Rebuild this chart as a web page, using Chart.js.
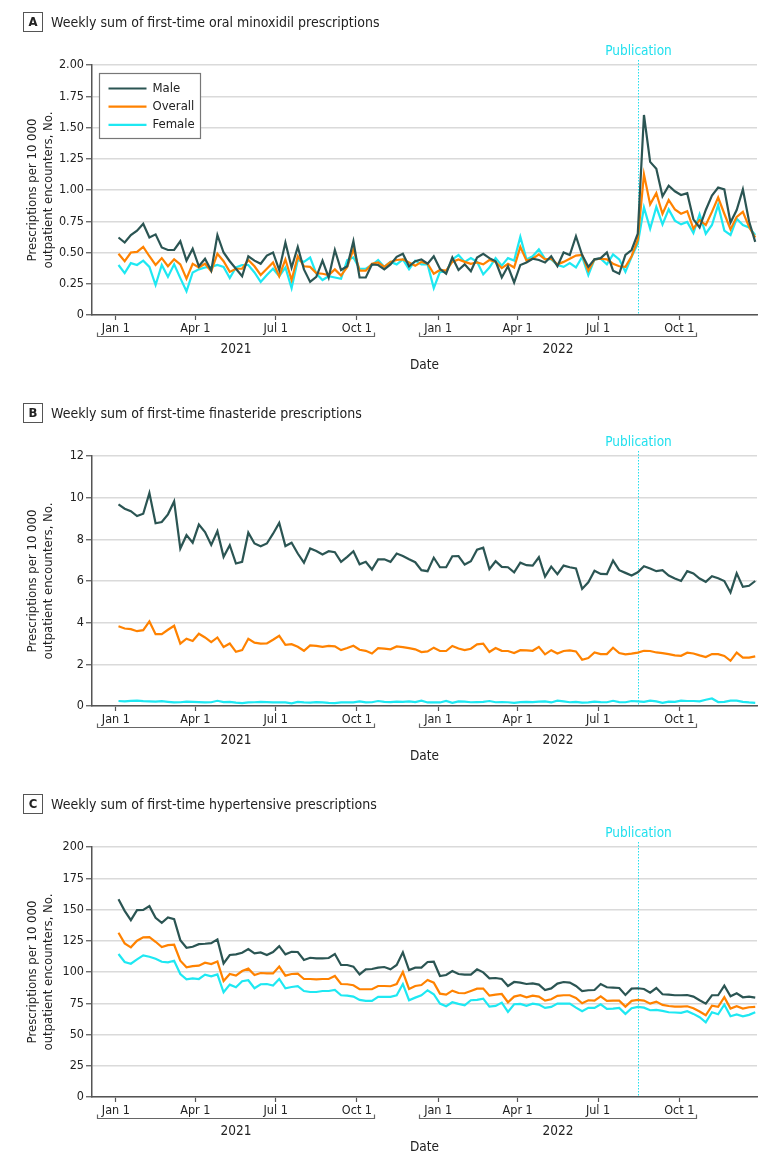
<!DOCTYPE html>
<html><head><meta charset="utf-8">
<script src="https://cdn.jsdelivr.net/npm/chart.js@4.4.1/dist/chart.umd.min.js"></script>
<style>
html,body{margin:0;padding:0;background:#fff;width:780px;height:1166px;overflow:hidden;}
.panel{position:absolute;left:0;width:780px;height:391px;}
.ttl{position:absolute;left:23px;top:12px;height:20px;font-family:"Liberation Sans Narrow","Arial Narrow","DejaVu Sans Condensed",sans-serif;font-size:14px;color:#222;display:flex;align-items:center;white-space:nowrap;}
.ttl b{display:inline-block;box-sizing:border-box;width:20px;height:20px;border:1px solid #555;text-align:center;line-height:18px;font-size:13px;margin-right:8px;}
canvas{position:absolute;left:0;top:0;}
</style></head>
<body>
<div class="panel" style="top:0"><canvas id="cA" width="780" height="391"></canvas><div class="ttl"><b>A</b>Weekly sum of first-time oral minoxidil prescriptions</div></div>
<div class="panel" style="top:391px"><canvas id="cB" width="780" height="391"></canvas><div class="ttl"><b>B</b>Weekly sum of first-time finasteride prescriptions</div></div>
<div class="panel" style="top:782px"><canvas id="cC" width="780" height="391"></canvas><div class="ttl"><b>C</b>Weekly sum of first-time hypertensive prescriptions</div></div>
<script>
// ---- categories: weekly periods, first week starting Mon 4 Jan 2021 (day 3 after 1 Jan 2021)
const firstWeekDay = 3;
const weekCount = 104;
const weekDays = Array.from({length: weekCount}, (_, i) => firstWeekDay + 7 * i);

// ---- x-axis tick labels (days since 1 Jan 2021)
const tickDays = [0, 90, 181, 273, 365, 455, 546, 638];
const tickLabels = ['Jan 1', 'Apr 1', 'Jul 1', 'Oct 1', 'Jan 1', 'Apr 1', 'Jul 1', 'Oct 1'];
const yearLabels = ['2021', '2022'];
const yearSpans = [[0, 273], [365, 638]];
const publicationDay = 591;
const seriesNames = ['Male', 'Overall', 'Female'];

// ---- A: oral minoxidil
const minoxMale = [0.62,0.58,0.64,0.675,0.73,0.62,0.645,0.54,0.52,0.52,0.59,0.435,0.53,0.39,0.45,0.355,0.64,0.50,0.43,0.37,0.31,0.47,0.435,0.41,0.475,0.50,0.36,0.58,0.38,0.545,0.365,0.265,0.305,
0.435,0.30,0.52,0.36,0.39,0.59,0.30,0.30,0.405,0.40,0.365,0.405,0.465,0.49,0.39,0.43,0.445,0.41,0.47,0.37,0.33,0.46,0.36,0.405,0.35,0.46,0.49,0.455,0.43,0.30,0.39,0.26,0.40,0.42,
0.45,0.44,0.42,0.47,0.39,0.50,0.48,0.63,0.48,0.385,0.445,0.455,0.50,0.355,0.33,0.48,0.52,0.65,1.60,1.225,1.17,0.95,1.035,0.99,0.96,0.975,0.765,0.70,0.84,0.955,1.02,1.005,0.74,0.84,1.005,0.75,0.585];
const minoxOverall = [0.49,0.43,0.50,0.505,0.545,0.47,0.40,0.455,0.39,0.445,0.405,0.29,0.41,0.38,0.41,0.35,0.49,0.43,0.345,0.37,0.37,0.44,0.39,0.32,0.37,0.42,0.31,0.445,0.28,0.47,0.39,0.385,0.335,
0.33,0.32,0.365,0.315,0.385,0.525,0.355,0.355,0.41,0.42,0.385,0.425,0.44,0.445,0.42,0.395,0.425,0.41,0.33,0.36,0.355,0.425,0.445,0.425,0.41,0.42,0.405,0.44,0.425,0.375,0.41,0.38,0.545,0.435,
0.45,0.485,0.445,0.45,0.405,0.425,0.45,0.475,0.48,0.355,0.445,0.45,0.445,0.41,0.39,0.385,0.47,0.60,1.125,0.885,0.975,0.81,0.92,0.845,0.81,0.83,0.69,0.76,0.72,0.825,0.94,0.81,0.685,0.785,0.825,0.705,0.62];
const minoxFemale = [0.40,0.335,0.415,0.40,0.435,0.385,0.24,0.40,0.305,0.405,0.295,0.19,0.34,0.365,0.38,0.385,0.40,0.385,0.295,0.38,0.40,0.40,0.34,0.265,0.32,0.37,0.31,0.38,0.215,0.44,0.425,0.46,0.33,
0.28,0.31,0.30,0.29,0.44,0.46,0.37,0.37,0.40,0.44,0.385,0.425,0.405,0.445,0.365,0.435,0.405,0.405,0.215,0.345,0.345,0.445,0.48,0.425,0.455,0.425,0.325,0.38,0.455,0.395,0.455,0.435,0.625,0.445,
0.47,0.525,0.45,0.445,0.40,0.385,0.415,0.38,0.465,0.32,0.445,0.45,0.405,0.485,0.445,0.345,0.465,0.57,0.86,0.69,0.865,0.725,0.845,0.755,0.725,0.745,0.655,0.805,0.65,0.72,0.88,0.675,0.64,0.77,0.72,0.70,0.64];

// ---- B: finasteride
const finMale = [9.68,9.47,9.35,9.12,9.23,10.22,8.77,8.83,9.2,9.82,
7.56,8.2,7.84,8.71,8.35,7.73,8.39,7.16,7.72,6.84,
6.92,8.32,7.8,7.67,7.8,8.27,8.79,7.68,7.84,7.32,
6.88,7.56,7.44,7.27,7.43,7.38,6.92,7.16,7.43,6.8,
6.92,6.55,7.04,7.04,6.92,7.32,7.2,7.04,6.9,6.52,
6.47,7.12,6.66,6.66,7.19,7.2,6.79,6.95,7.5,7.6,
6.57,6.95,6.68,6.66,6.42,6.88,6.76,6.74,7.14,6.21,
6.69,6.33,6.74,6.66,6.6,5.62,5.94,6.49,6.34,6.33,
6.98,6.52,6.39,6.26,6.42,6.71,6.6,6.47,6.52,6.26,
6.12,6.0,6.47,6.36,6.12,5.96,6.23,6.13,6.0,5.45,
6.37,5.72,5.77,6.0];
const finOverall = [3.83,3.72,3.69,3.59,3.64,4.06,3.45,3.45,3.66,3.85,
2.99,3.23,3.12,3.47,3.29,3.07,3.29,2.83,3.0,2.6,
2.68,3.23,3.04,2.99,3.0,3.18,3.37,2.94,2.97,2.84,
2.65,2.91,2.89,2.84,2.89,2.86,2.68,2.78,2.89,2.7,
2.65,2.52,2.78,2.75,2.72,2.86,2.83,2.78,2.72,2.59,
2.62,2.8,2.64,2.64,2.88,2.76,2.68,2.75,2.96,2.99,
2.59,2.78,2.65,2.64,2.54,2.68,2.67,2.65,2.84,2.48,
2.68,2.52,2.64,2.67,2.62,2.22,2.3,2.57,2.49,2.49,
2.8,2.54,2.48,2.51,2.56,2.65,2.64,2.57,2.54,2.49,
2.43,2.41,2.56,2.52,2.43,2.35,2.49,2.49,2.4,2.17,
2.56,2.32,2.32,2.38];
const finFemale = [0.24,0.22,0.25,0.26,0.23,0.22,0.21,0.23,0.20,0.17,
0.18,0.21,0.20,0.19,0.17,0.18,0.25,0.19,0.20,0.16,
0.14,0.17,0.18,0.20,0.19,0.17,0.18,0.17,0.13,0.20,
0.17,0.16,0.19,0.17,0.15,0.14,0.17,0.18,0.17,0.22,
0.17,0.18,0.24,0.20,0.19,0.21,0.20,0.22,0.19,0.26,
0.17,0.18,0.17,0.24,0.15,0.22,0.21,0.18,0.19,0.20,
0.24,0.18,0.19,0.18,0.15,0.19,0.20,0.19,0.21,0.22,
0.17,0.26,0.22,0.18,0.20,0.16,0.17,0.21,0.19,0.18,
0.25,0.19,0.18,0.24,0.22,0.20,0.26,0.22,0.15,0.21,
0.20,0.26,0.24,0.24,0.22,0.30,0.36,0.19,0.20,0.26,
0.26,0.20,0.17,0.15];

// ---- C: hypertensive
const htnMale = [158.2,148.9,141.5,149.5,149.7,152.7,143.4,139.4,143.6,142.3,
125.5,119.4,120.2,122.3,122.6,123.1,126.1,106.9,113.6,114.1,
115.4,118.4,114.9,115.7,113.6,116.0,120.7,114.1,116.2,116.0,
109.6,111.4,110.9,110.9,111.2,114.4,105.6,105.6,104.3,98.1,
102.1,102.4,103.5,104.0,102.1,105.6,115.7,101.6,103.5,103.5,
108.0,108.2,96.8,97.6,100.8,98.4,97.9,97.9,102.1,99.7,
94.9,95.2,94.4,88.8,92.0,91.5,90.4,90.9,89.9,85.6,
86.9,90.7,92.0,91.5,88.8,84.8,85.4,85.6,90.4,87.8,
87.5,87.2,81.6,86.7,87.0,86.4,83.5,87.2,82.2,81.9,
81.4,81.4,81.6,80.3,77.4,74.7,81.4,81.4,89.1,80.6,
83.0,79.8,80.3,79.5];
const htnOverall = [131.4,122.9,119.7,125.0,127.7,127.9,124.2,119.9,121.5,121.8,
109.0,103.7,104.7,105.1,107.4,106.4,108.5,92.8,98.4,97.1,
100.8,102.7,97.6,99.2,98.9,98.9,104.3,97.1,98.4,98.7,
94.4,94.4,94.1,94.4,94.4,96.8,90.4,90.2,89.4,86.2,
86.2,86.2,88.8,88.8,88.6,90.4,100.0,86.4,88.8,89.6,
93.6,91.5,82.7,81.9,85.1,83.2,83.0,84.8,86.7,86.7,
81.1,81.9,82.4,75.8,80.3,81.4,79.8,81.1,80.3,77.1,
78.2,80.9,81.4,81.4,79.2,75.0,77.4,77.1,80.6,76.9,
77.1,77.1,72.3,76.9,77.7,77.1,74.7,76.3,73.7,72.8,
72.3,72.3,72.6,71.0,68.4,65.4,73.1,72.1,79.8,70.7,
72.6,70.7,71.8,72.1];
const htnFemale = [114.4,108.0,106.6,110.1,113.3,112.2,110.6,108.2,107.7,109.0,
98.4,94.1,94.9,94.4,97.9,96.5,98.1,83.8,89.9,87.8,
92.6,93.4,87.0,90.2,90.4,89.1,94.4,87.0,88.0,88.6,
84.8,84.0,84.0,84.8,84.8,85.6,81.4,81.1,80.3,77.7,
76.9,76.9,80.1,80.1,80.1,81.4,90.4,77.4,79.5,81.4,
85.4,82.2,74.7,72.6,75.8,74.5,73.4,77.4,77.7,78.7,
72.3,72.9,75.5,68.1,74.2,74.5,72.9,74.7,73.9,71.3,
72.1,74.7,74.7,74.7,71.5,68.6,71.3,71.3,74.2,70.5,
70.7,71.3,66.5,71.0,72.1,71.5,69.4,69.7,68.9,67.8,
67.6,67.3,68.6,66.5,63.8,59.8,67.8,66.2,73.9,64.6,
66.0,64.6,65.7,67.8];

// ---- styles
const FONT = '"Liberation Sans Narrow","Arial Narrow","DejaVu Sans Condensed",sans-serif';
const COLORS = ['#2b5553', '#ff8200', '#1ee8f2'];
const PUB_COLOR = '#22e0ee';
const TEXT = '#222';
const AXIS = '#555';

const extras = {
  id: 'extras',
  beforeDatasetsDraw(chart) {
    const {ctx, chartArea: ca, scales: {x}} = chart;
    const px = Math.round(x.getPixelForValue(publicationDay)) + 0.5;
    ctx.save();
    ctx.strokeStyle = PUB_COLOR; ctx.lineWidth = 1; ctx.setLineDash([1.5, 1.5]);
    ctx.beginPath(); ctx.moveTo(px, ca.top - 5); ctx.lineTo(px, ca.bottom); ctx.stroke();
    ctx.restore();
  },
  afterDraw(chart, args, opts) {
    const {ctx, chartArea: ca, scales: {x}} = chart;
    ctx.save();
    const px = Math.round(x.getPixelForValue(publicationDay)) + 0.5;
    ctx.fillStyle = PUB_COLOR; ctx.font = '13.5px ' + FONT;
    ctx.textAlign = 'center'; ctx.textBaseline = 'middle';
    ctx.fillText('Publication', px, ca.top - 14);
    // year brackets
    yearSpans.forEach(([a, b], k) => {
      const x1 = Math.round(x.getPixelForValue(a) - 19) + 0.5;
      const x2 = Math.round(x.getPixelForValue(b) + 17) + 0.5;
      const yb = Math.round(ca.bottom + 21) + 0.5;
      ctx.strokeStyle = '#666'; ctx.lineWidth = 1.2;
      ctx.beginPath(); ctx.moveTo(x1, yb - 4); ctx.lineTo(x1, yb); ctx.lineTo(x2, yb); ctx.lineTo(x2, yb - 4); ctx.stroke();
      ctx.fillStyle = TEXT; ctx.font = '13.5px ' + FONT;
      ctx.fillText(yearLabels[k], (x1 + x2) / 2, ca.bottom + 34.5);
    });
    // legend (panel A)
    if (opts.legend) {
      const lx = ca.left + 7.5, ly = ca.top + 8.5, lw = 101, lh = 65;
      ctx.fillStyle = '#fff'; ctx.fillRect(lx, ly, lw, lh);
      ctx.strokeStyle = '#777'; ctx.lineWidth = 1.2; ctx.strokeRect(lx, ly, lw, lh);
      chart.data.datasets.forEach((ds, k) => {
        const yy = ly + 15 + k * 18.2;
        ctx.strokeStyle = ds.borderColor; ctx.lineWidth = 2.2;
        ctx.beginPath(); ctx.moveTo(lx + 9, yy); ctx.lineTo(lx + 47, yy); ctx.stroke();
        ctx.fillStyle = TEXT; ctx.font = '13px ' + FONT; ctx.textAlign = 'left';
        ctx.fillText(ds.label, lx + 53, yy);
      });
    }
    ctx.restore();
  }
};

function makePanel(id, series, yMax, yStep, yFmt, legend) {
  const canvas = document.getElementById(id);
  const H = canvas.height;
  const datasets = series.map((vals, k) => ({
    label: seriesNames[k],
    data: vals.map((v, i) => ({x: weekDays[i], y: v})),
    borderColor: COLORS[k], backgroundColor: COLORS[k],
    borderWidth: 2.2, pointRadius: 0, tension: 0, fill: false,
    order: k
  }));
  const yTicks = [];
  for (let v = 0; v <= yMax + 1e-9; v += yStep) yTicks.push(+v.toFixed(4));
  new Chart(canvas, {
    type: 'line',
    data: {datasets},
    plugins: [extras],
    options: {
      responsive: false, animation: false, devicePixelRatio: 1,
      layout: {padding: {top: 65, right: 23, left: 0, bottom: 0}},
      plugins: {legend: {display: false}, tooltip: {enabled: false}, extras: {legend}},
      scales: {
        x: {
          type: 'linear', min: -27, max: 726,
          afterBuildTicks: s => { s.ticks = tickDays.map(v => ({value: v})); },
          afterFit: s => { s.height = H - 315; },
          ticks: {autoSkip: false, maxRotation: 0, padding: 1.5, color: TEXT,
                  font: {family: FONT, size: 12.5},
                  callback: v => tickLabels[tickDays.indexOf(v)]},
          grid: {drawOnChartArea: false, drawTicks: true, tickLength: 5, tickColor: AXIS, tickWidth: 1.2},
          border: {display: true, color: AXIS, width: 1.5},
          title: {display: true, text: 'Date', color: TEXT, font: {family: FONT, size: 13.5}, padding: {top: 0, bottom: 17}}
        },
        y: {
          min: 0, max: yMax,
          afterBuildTicks: s => { s.ticks = yTicks.map(v => ({value: v})); },
          afterFit: s => { s.width = 92; },
          ticks: {padding: 2, color: TEXT, font: {family: FONT, size: 12.5}, callback: yFmt},
          grid: {color: '#dadada', lineWidth: 1.5, drawTicks: true, tickLength: 6, tickColor: AXIS, tickWidth: 1.2},
          border: {display: true, color: AXIS, width: 1.5},
          title: {display: true, text: ['Prescriptions per 10 000', 'outpatient encounters, No.'],
                  color: TEXT, font: {family: FONT, size: 13, lineHeight: 1.25}, padding: {top: 24, bottom: 0}}
        }
      }
    }
  });
}

makePanel('cA', [minoxMale, minoxOverall, minoxFemale], 2, 0.25, v => v === 0 ? '0' : v.toFixed(2), true);
makePanel('cB', [finMale, finOverall, finFemale], 12, 2, v => String(v), false);
makePanel('cC', [htnMale, htnOverall, htnFemale], 200, 25, v => String(v), false);
</script>
</body></html>
